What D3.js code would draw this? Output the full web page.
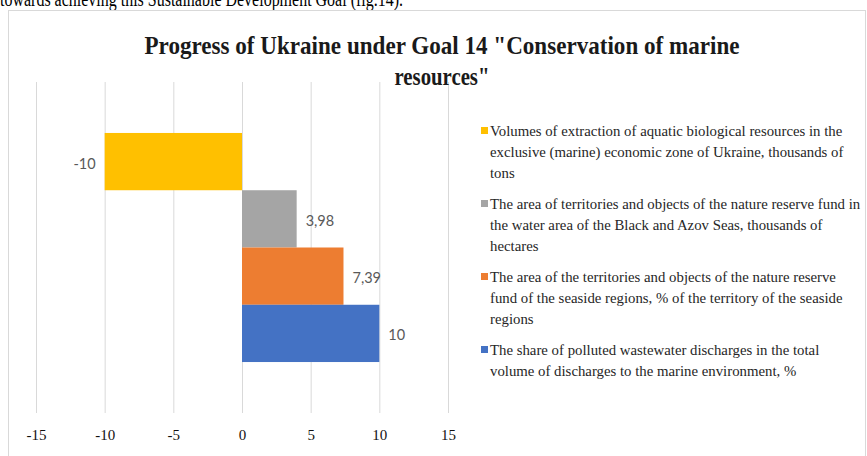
<!DOCTYPE html>
<html>
<head>
<meta charset="utf-8">
<script src="https://cdn.jsdelivr.net/npm/d3@7"></script>
<style>
  body { margin: 0; background: #fff; }
  svg { display: block; }
</style>
</head>
<body>
<svg id="chart" width="867" height="456"></svg>
<script>
// data
const seriesNames = [
  "Volumes of extraction of aquatic biological resources",
  "Area of nature reserve fund in the Black and Azov Seas",
  "Area of nature reserve fund of the seaside regions",
  "Share of polluted wastewater discharges"
];
const seriesValues = [-10, 3.98, 7.39, 10];
const seriesColors = ["#ffc000", "#a5a5a5", "#ed7d31", "#4472c4"];
const legendLines = [
  ["Volumes of extraction of aquatic biological resources in the",
   "exclusive (marine) economic zone of Ukraine, thousands of",
   "tons"],
  ["The area of territories  and objects of the nature reserve fund in",
   "the water area of the Black and Azov Seas, thousands of",
   "hectares"],
  ["The area of the territories and objects of the nature reserve",
   "fund of the seaside regions, % of the territory of the seaside",
   "regions"],
  ["The share of polluted wastewater discharges in the total",
   "volume of discharges to the marine environment, %"]
];
const xTicks = [-15, -10, -5, 0, 5, 10, 15];
const titleLines = ['Progress of Ukraine under Goal 14 "Conservation of marine', 'resources"'];

const svg = d3.select("#chart");

// page text cut off above the figure
svg.append("text")
  .attr("x", 0).attr("y", 6)
  .attr("font-family", "Liberation Serif")
  .attr("font-size", 20)
  .attr("fill", "#000")
  .attr("textLength", 403).attr("lengthAdjust", "spacingAndGlyphs")
  .text("towards achieving this Sustainable Development Goal (fig.14).");

// chart frame
svg.append("rect")
  .attr("x", 8.5).attr("y", 10.5)
  .attr("width", 857).attr("height", 460)
  .attr("fill", "#fff")
  .attr("stroke", "#d9d9d9");

const plotTop = 82, plotBottom = 413;

const x = d3.scaleLinear().domain([-15, 15]).range([36, 448]);
const y = d3.scaleBand().domain(seriesNames).range([plotTop, plotBottom])
  .paddingInner(0).paddingOuter(0.89);

// vertical gridlines
svg.append("g").selectAll("line").data(xTicks).join("line")
  .attr("x1", d => x(d) + 0.5).attr("x2", d => x(d) + 0.5)
  .attr("y1", plotTop).attr("y2", plotBottom)
  .attr("stroke", "#d9d9d9").attr("stroke-width", 1);

// tick labels along the bottom
const xAxis = svg.append("g")
  .attr("transform", `translate(0,${plotBottom})`)
  .call(d3.axisBottom(x).tickValues(xTicks).tickSize(0).tickPadding(16));
xAxis.select(".domain").remove();
xAxis.selectAll("text")
  .attr("font-family", "Liberation Serif")
  .attr("font-size", 15)
  .attr("fill", "#111")
  .text(d => String(d)); // plain hyphen minus like the source

// bars
svg.append("g").selectAll("rect").data(seriesNames).join("rect")
  .attr("x", (d, i) => x(Math.min(0, seriesValues[i])))
  .attr("y", d => y(d))
  .attr("width", (d, i) => Math.abs(x(seriesValues[i]) - x(0)))
  .attr("height", y.bandwidth())
  .attr("fill", (d, i) => seriesColors[i]);

// data labels, comma decimals
const fmt = d3.formatLocale({decimal: ",", thousands: " ", grouping: [3], currency: ["", ""], minus: "-"}).format(".3~r");
svg.append("g").selectAll("text").data(seriesNames).join("text")
  .attr("x", (d, i) => seriesValues[i] < 0 ? x(seriesValues[i]) - 9 : x(seriesValues[i]) + 9)
  .attr("y", d => y(d) + y.bandwidth() / 2 + 2)
  .attr("dy", "0.35em")
  .attr("text-anchor", (d, i) => seriesValues[i] < 0 ? "end" : "start")
  .attr("font-family", "Lato")
  .attr("font-size", 14.5)
  .attr("fill", "#595959")
  .text((d, i) => fmt(seriesValues[i]));

// title, squeezed like the original
const title = svg.append("g");
title.append("text")
  .attr("x", 442).attr("y", 54)
  .attr("text-anchor", "middle")
  .attr("font-family", "Liberation Serif").attr("font-weight", "bold")
  .attr("font-size", 26).attr("fill", "#1a1a1a")
  .attr("textLength", 595).attr("lengthAdjust", "spacingAndGlyphs")
  .text(titleLines[0]);
title.append("text")
  .attr("x", 442).attr("y", 85)
  .attr("text-anchor", "middle")
  .attr("font-family", "Liberation Serif").attr("font-weight", "bold")
  .attr("font-size", 26).attr("fill", "#1a1a1a")
  .attr("textLength", 95).attr("lengthAdjust", "spacingAndGlyphs")
  .text(titleLines[1]);

// legend
const lineH = 21, itemGap = 10;
let ly = 131;
const legend = svg.append("g");
legendLines.forEach(function(lines, i) {
  legend.append("rect")
    .attr("x", 481).attr("y", ly - 4)
    .attr("width", 7).attr("height", 7)
    .attr("fill", seriesColors[i]);
  let txt = legend.append("text")
    .attr("font-family", "Liberation Serif")
    .attr("font-size", 14.8)
    .attr("fill", "#262626");
  lines.forEach(function(l, j) {
    txt.append("tspan").attr("x", 490).attr("y", ly + 5 + j * lineH).text(l);
  });
  ly += lines.length * lineH + itemGap;
});
</script>
</body>
</html>
